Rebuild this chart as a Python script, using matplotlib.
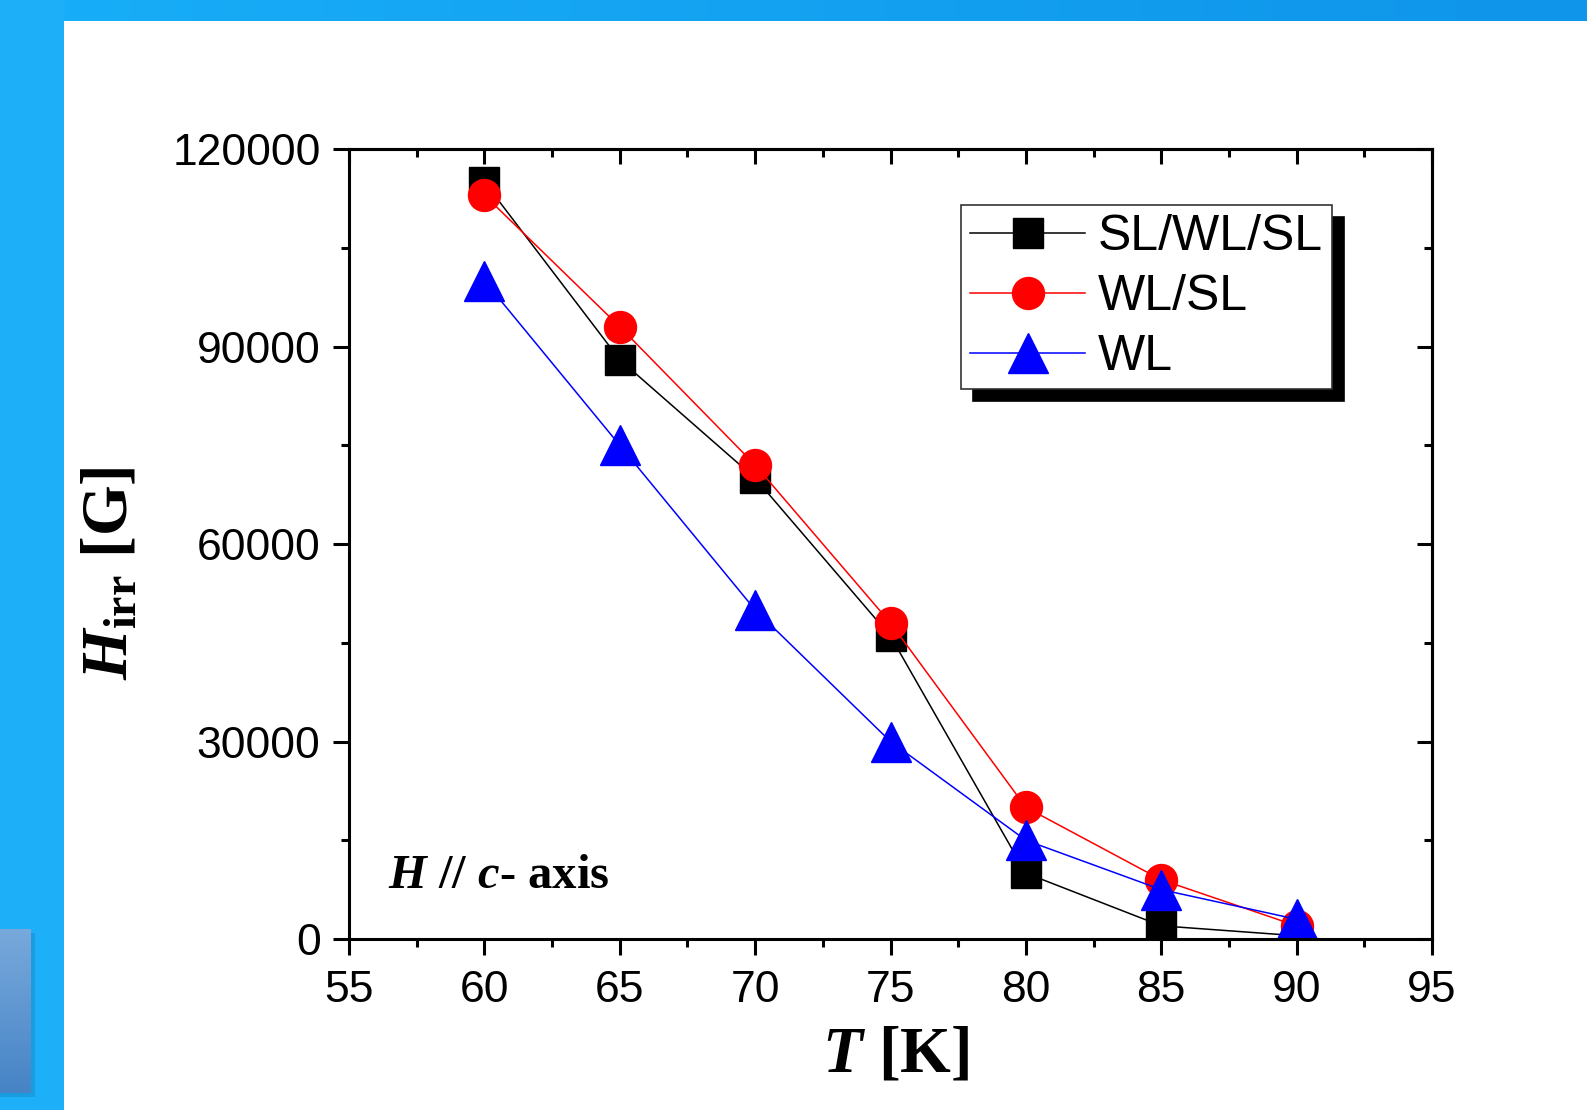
import numpy as np
import matplotlib.pyplot as plt
from matplotlib.patches import Rectangle
from matplotlib.colors import LinearSegmentedColormap
from matplotlib.ticker import MultipleLocator

# data
T = [60, 65, 70, 75, 80, 85, 90]
h_slwlsl = [115000, 88000, 70000, 46000, 10000, 2000, 500]
h_wlsl = [113000, 93000, 72000, 48000, 20000, 9000, 2000]
h_wl = [100000, 75000, 50000, 30000, 15000, 7500, 3000]
labels = ["SL/WL/SL", "WL/SL", "WL"]

plt.rcParams['mathtext.fontset'] = 'custom'
plt.rcParams['mathtext.rm'] = 'Liberation Serif:weight=bold'
plt.rcParams['mathtext.bf'] = 'Liberation Serif:weight=bold'
plt.rcParams['mathtext.it'] = 'Liberation Serif:style=italic:weight=bold'

W, H = 1587, 1110
fig = plt.figure(figsize=(W / 100, H / 100), dpi=100)

# slide background (blue frame on the left and top)
bg = fig.add_axes([0, 0, 1, 1], zorder=-10)
bg.axis('off')
top_cmap = LinearSegmentedColormap.from_list('top', ['#18aef8', '#0f95ea'])
bg.imshow(np.linspace(0, 1, 256)[None, :], extent=[0, W, 21, 0], cmap=top_cmap, aspect='auto')
bg.add_patch(Rectangle((0, 0), 64, H, color='#1db0f8', lw=0))
bg.add_patch(Rectangle((0, 933), 35, 164, color='#178fd0', alpha=0.6, lw=0))
box_cmap = LinearSegmentedColormap.from_list('box', ['#78a9dc', '#4684c6'])
bg.imshow(np.linspace(0, 1, 256)[:, None], extent=[0, 31, 1093, 929], cmap=box_cmap, aspect='auto', zorder=3)
bg.set_xlim(0, W)
bg.set_ylim(H, 0)

ax = fig.add_axes([349 / W, 1 - 939 / H, 1083 / W, 790 / H])

ax.plot(T, h_slwlsl, '-s', color='black', lw=1.1, markersize=21, label=labels[0])
ax.plot(T, h_wlsl, '-o', color='red', lw=1.1, markersize=23, label=labels[1])
ax.plot(T, h_wl, '-^', color='blue', lw=1.1, markersize=29, label=labels[2])

ax.set_xlim(55, 95)
ax.set_ylim(0, 120000)
ax.xaxis.set_major_locator(MultipleLocator(5))
ax.xaxis.set_minor_locator(MultipleLocator(2.5))
ax.yaxis.set_major_locator(MultipleLocator(30000))
ax.yaxis.set_minor_locator(MultipleLocator(15000))

for s in ax.spines.values():
    s.set_linewidth(2.2)

ax.tick_params(which='major', direction='out', length=11.5, width=2.2, labelsize=32)
ax.tick_params(which='minor', direction='out', length=5.8, width=2.2)
ax.tick_params(axis='x', which='major', pad=11)
ax.tick_params(axis='y', which='major', pad=9)
for lab in ax.get_xticklabels() + ax.get_yticklabels():
    lab.set_fontfamily('Liberation Sans')

# inward ticks on the top and right
top = ax.secondary_xaxis('top')
top.xaxis.set_major_locator(MultipleLocator(5))
top.xaxis.set_minor_locator(MultipleLocator(2.5))
top.tick_params(which='major', direction='in', length=10.5, width=2.2, labeltop=False)
top.tick_params(which='minor', direction='in', length=5.5, width=2.2)
top.spines['top'].set_linewidth(2.2)
right = ax.secondary_yaxis('right')
right.yaxis.set_major_locator(MultipleLocator(30000))
right.yaxis.set_minor_locator(MultipleLocator(15000))
right.tick_params(which='major', direction='in', length=10.5, width=2.2, labelright=False)
right.tick_params(which='minor', direction='in', length=5.5, width=2.2)
right.spines['right'].set_linewidth(2.2)

fig.text(896 / W, 1 - 1072 / H, r'$T$ [K]', fontsize=47, fontfamily='Liberation Serif',
         fontweight='bold', ha='center', va='baseline')
fig.text(111 / W, 1 - 573 / H, r'$H_{\mathrm{irr}}$ [G]', fontsize=47, fontfamily='Liberation Serif',
         fontweight='bold', rotation=90, ha='center', va='center')
fig.text(388 / W, 1 - 888 / H, r'$H$ // $c$- axis', fontsize=35, fontfamily='Liberation Serif',
         fontweight='bold', ha='left', va='baseline')

leg = ax.legend(loc='upper right', bbox_to_anchor=((1332 - 349) / 1083, (939 - 205) / 790),
                borderaxespad=0, fancybox=False, edgecolor='#333333', framealpha=1,
                prop={'family': 'Liberation Sans', 'size': 36}, handlelength=2.3,
                handletextpad=0.25, labelspacing=0.28, borderpad=0.18,
                shadow={'ox': 8.5, 'oy': -8.5, 'color': 'black', 'alpha': 1})
leg.get_frame().set_linewidth(1.2)

fig.savefig('out.png', dpi=100)
